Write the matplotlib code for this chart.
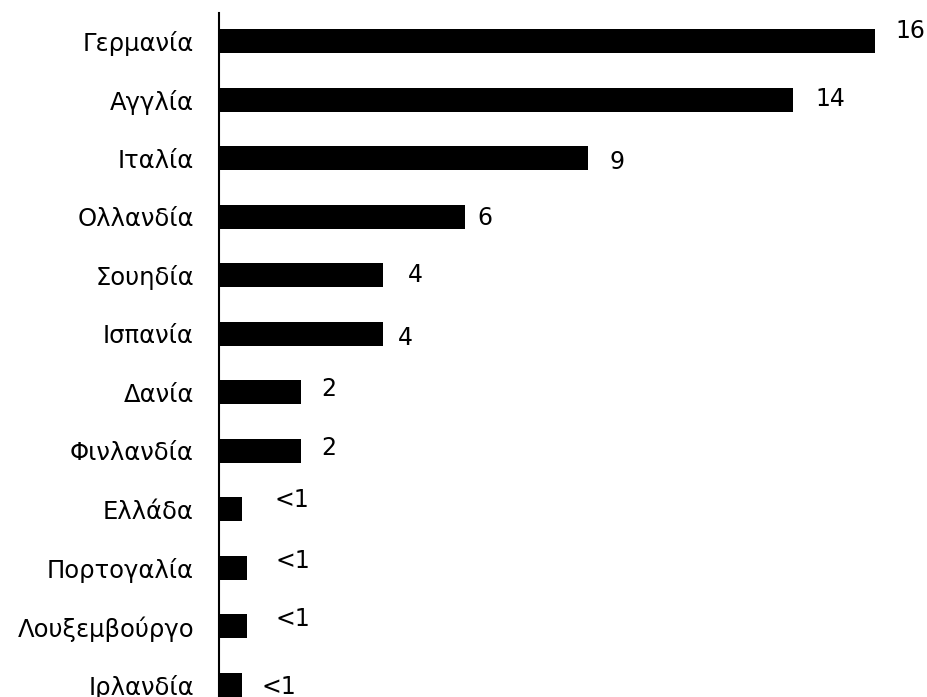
import matplotlib.pyplot as plt
import numpy as np

plt.rcParams['font.family'] = ['DejaVu Sans']

# χώρες και τιμές (%)
countries = ['Γερμανία', 'Αγγλία', 'Ιταλία', 'Ολλανδία', 'Σουηδία', 'Ισπανία',
             'Δανία', 'Φινλανδία', 'Ελλάδα', 'Πορτογαλία', 'Λουξεμβούργο', 'Ιρλανδία']
values = [16, 14, 9, 6, 4, 4, 2, 2, 0.56, 0.68, 0.68, 0.55]
value_labels = ['16', '14', '9', '6', '4', '4', '2', '2', '<1', '<1', '<1', '<1']

# μετατόπιση ετικετών τιμών (pixels)
label_dx = [20, 22, 22, 12, 25, 15, 20, 20, 33, 29, 29, 20]
label_dy = [10, 1, -4, -1, 0, -4, 3, 3, 9, 7, 7, -2]

fig = plt.figure(figsize=(9.28, 6.97), dpi=100)
ax = fig.add_axes([219 / 928, 0, 697 / 928, 684 / 697])

y = np.arange(len(countries))
ax.barh(y, values, height=0.41, color='black')

for yi, v, lab, dx, dy in zip(y, values, value_labels, label_dx, label_dy):
    ax.annotate(lab, xy=(v, yi), xytext=(dx, dy), textcoords='offset pixels',
                ha='left', va='center', fontsize=17)

ax.set_xlim(0, 17)
ax.set_ylim(11.205, -0.478)
ax.set_yticks(y)
ax.set_yticklabels(countries, fontsize=17.5)
ax.tick_params(axis='y', length=0, pad=18)
ax.set_xticks([])

for spine in ['top', 'right', 'bottom']:
    ax.spines[spine].set_visible(False)
ax.spines['left'].set_linewidth(1.5)

fig.savefig('out.png', dpi=100)
